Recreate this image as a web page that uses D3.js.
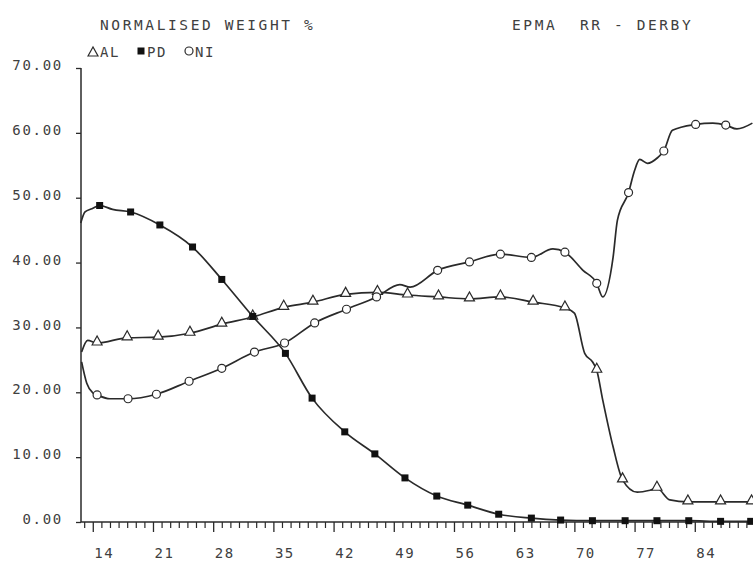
<!DOCTYPE html>
<html>
<head>
<meta charset="utf-8">
<script src="https://cdn.jsdelivr.net/npm/d3@7"></script>
<style>
  body { margin: 0; background: #fff; }
  svg text { font-family: "DejaVu Sans Mono", monospace; fill: #404040; }
</style>
</head>
<body>
<div id="chart"></div>
<script>
// x = position units, y = normalised weight %
var alLine = [[12.7,26.2],[13.4,28.0],[14.5,27.6],[18.0,28.4],[21.6,28.5],[25.3,29.1],[29.0,30.5],
  [32.6,31.6],[36.2,33.1],[39.6,33.9],[43.4,35.1],[47.1,35.4],[50.6,35.0],[54.2,34.7],[57.8,34.4],
  [61.4,34.7],[65.2,33.9],[68.9,33.0],[70.0,32.2],[71.2,26.0],[72.1,24.7],[72.6,23.4],[73.3,18.8],
  [74.5,11.6],[75.6,6.5],[77.3,4.6],[78.8,4.9],[79.6,5.2],[81.1,3.4],[83.2,3.1],[87.0,3.1],[90.6,3.1]];
var alMarks = [14.5,18.0,21.6,25.3,29.0,32.6,36.2,39.6,43.4,47.1,50.6,54.2,57.8,61.4,65.2,68.9,72.6,75.6,79.6,83.2,87.0,90.6];

var pdLine = [[12.6,46.1],[13.1,47.8],[13.9,48.3],[14.8,48.8],[16.3,48.2],[18.4,47.8],[21.8,45.8],
  [25.6,42.4],[29.0,37.4],[32.6,31.7],[36.4,26.0],[39.5,19.1],[43.3,13.9],[46.8,10.5],
  [50.3,6.8],[54.0,4.0],[57.6,2.6],[61.2,1.2],[65.0,0.6],[68.4,0.3],[72.1,0.2],[75.9,0.2],
  [79.6,0.2],[83.3,0.2],[87.0,0.1],[90.5,0.1]];
var pdMarks = [14.8,18.4,21.8,25.6,29.0,32.6,36.4,39.5,43.3,46.8,50.3,54.0,57.6,61.2,65.0,68.4,72.1,75.9,79.6,83.3,87.0,90.5];

var niLine = [[12.7,24.7],[13.3,21.4],[14.0,19.9],[14.5,19.6],[16.0,19.0],[18.1,19.0],[21.4,19.7],
  [25.2,21.7],[29.0,23.7],[32.8,26.2],[36.3,27.6],[39.8,30.7],[43.5,32.8],[47.0,34.7],[49.7,36.6],
  [50.9,36.2],[54.1,38.8],[57.8,40.1],[61.4,41.3],[65.0,40.8],[67.5,42.1],[68.9,41.6],[71.0,38.8],
  [72.6,36.8],[73.3,34.7],[74.5,40.8],[75.0,46.5],[76.3,50.8],[77.0,54.2],[77.6,55.9],[78.5,55.3],
  [79.7,56.2],[80.4,57.2],[81.4,60.4],[84.1,61.3],[86.1,61.5],[87.6,61.2],[88.9,60.6],[90.7,61.5]];
var niMarks = [14.5,18.1,21.4,25.2,29.0,32.8,36.3,39.8,43.5,47.0,54.1,57.8,61.4,65.0,68.9,72.6,76.3,80.4,84.1,87.6];

var xLabels = [14,21,28,35,42,49,56,63,70,77,84];
var yLabels = [0,10,20,30,40,50,60,70];

var W = 753, H = 563;
var svg = d3.select("#chart").append("svg")
  .attr("width", W).attr("height", H);

var x = d3.scaleLinear().domain([12.63, 90.77]).range([81, 753]);
var y = d3.scaleLinear().domain([0, 70]).range([522, 68]);

// axes
var ink = "#2a2a2a";
svg.append("line").attr("x1", 81).attr("x2", 81).attr("y1", y(70)).attr("y2", y(0))
  .attr("stroke", ink).attr("stroke-width", 1.5);
svg.append("line").attr("x1", 81).attr("x2", W).attr("y1", y(0)).attr("y2", y(0))
  .attr("stroke", ink).attr("stroke-width", 1.5);

var yAxis = svg.append("g").attr("transform", "translate(81,0)")
  .call(d3.axisLeft(y).tickValues(yLabels).tickSize(5).tickSizeOuter(0)
    .tickPadding(13).tickFormat(d3.format(".2f")));
yAxis.select(".domain").remove();
yAxis.selectAll("line").attr("stroke", ink).attr("stroke-width", 1.3);
yAxis.selectAll("text").attr("font-size", 14).attr("dy", "0.12em")
  .style("letter-spacing", "1.7px").attr("font-family", "DejaVu Sans Mono");

var minor = d3.range(13, 91).filter(function (d) { return d % 7 !== 0; });
var xMinor = svg.append("g").attr("transform", "translate(0," + y(0) + ")")
  .call(d3.axisBottom(x).tickValues(minor).tickSize(6).tickSizeOuter(0).tickFormat(""));
xMinor.select(".domain").remove();
xMinor.selectAll("line").attr("stroke", ink).attr("stroke-width", 1.2);

var xAxis = svg.append("g").attr("transform", "translate(0," + y(0) + ")")
  .call(d3.axisBottom(x).tickValues(xLabels).tickSize(10).tickSizeOuter(0).tickPadding(16));
xAxis.select(".domain").remove();
xAxis.selectAll("line").attr("stroke", ink).attr("stroke-width", 1.3);
xAxis.selectAll("text").attr("font-size", 14).attr("dx", 11)
  .style("letter-spacing", "1.5px").attr("font-family", "DejaVu Sans Mono");

// lines
var line = d3.line().x(function (d) { return x(d[0]); }).y(function (d) { return y(d[1]); })
  .curve(d3.curveMonotoneX);

function valueAt(data, u) {
  for (var i = 1; i < data.length; i++) {
    if (data[i][0] >= u) {
      var a = data[i - 1], b = data[i];
      var t = (u - a[0]) / (b[0] - a[0]);
      return a[1] + t * (b[1] - a[1]);
    }
  }
  return data[data.length - 1][1];
}

[alLine, pdLine, niLine].forEach(function (d) {
  svg.append("path").datum(d).attr("d", line)
    .attr("fill", "none").attr("stroke", ink).attr("stroke-width", 1.7);
});

function tri(g, cx, cy) {
  g.append("path").attr("d", "M" + (cx - 5) + "," + (cy + 2) + "L" + cx + "," + (cy - 7) + "L" + (cx + 5) + "," + (cy + 2) + "Z")
    .attr("fill", "#fff").attr("stroke", ink).attr("stroke-width", 1.2);
}
function sq(g, cx, cy) {
  g.append("rect").attr("x", cx - 3.5).attr("y", cy - 3.5).attr("width", 7).attr("height", 7)
    .attr("fill", "#111");
}
function circ(g, cx, cy) {
  g.append("circle").attr("cx", cx).attr("cy", cy).attr("r", 4)
    .attr("fill", "#fff").attr("stroke", ink).attr("stroke-width", 1.2);
}

var marks = svg.append("g");
alMarks.forEach(function (u) { tri(marks, x(u), y(valueAt(alLine, u))); });
pdMarks.forEach(function (u) { sq(marks, x(u), y(valueAt(pdLine, u))); });
niMarks.forEach(function (u) { circ(marks, x(u), y(valueAt(niLine, u))); });

// titles
svg.append("text").attr("x", 100).attr("y", 30).attr("font-size", 14.5)
  .style("letter-spacing", "2.6px").text("NORMALISED WEIGHT %");
svg.append("text").attr("x", 512).attr("y", 30).attr("font-size", 14.5)
  .style("letter-spacing", "2.6px").style("white-space", "pre").text("EPMA  RR - DERBY");

// legend
var leg = svg.append("g");
tri(leg, 93, 54);
leg.append("text").attr("x", 100).attr("y", 57).attr("font-size", 14).style("letter-spacing", "1.5px").text("AL");
sq(leg, 141, 51);
leg.append("text").attr("x", 147).attr("y", 57).attr("font-size", 14).style("letter-spacing", "1.5px").text("PD");
circ(leg, 189, 51);
leg.append("text").attr("x", 195).attr("y", 57).attr("font-size", 14).style("letter-spacing", "1.5px").text("NI");
</script>
</body>
</html>
